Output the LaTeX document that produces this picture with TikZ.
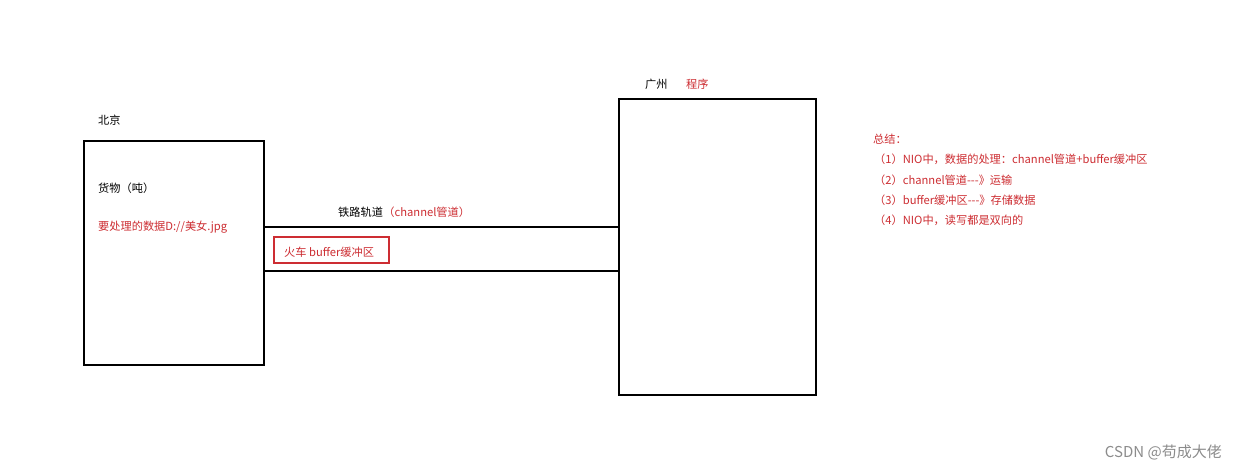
\documentclass[tikz,border=0pt]{standalone}
\usepackage{fontspec}
\setmainfont{Noto Sans CJK SC}
\definecolor{tred}{RGB}{205,45,50}
\begin{document}
\begin{tikzpicture}[x=1pt,y=-1pt,
  box/.style={draw,line width=1.8pt},
  rail/.style={line width=1.8pt},
  lbl/.style={anchor=west,inner sep=0pt,font=\fontsize{11.2}{13}\selectfont},
  rl/.style={lbl,text=tred}]
\useasboundingbox[fill=white] (0,0) rectangle (1238,471);
\node[box,minimum width=180pt,minimum height=224pt,inner sep=0pt] (bj) at (174,253) {};
\node[box,minimum width=197pt,minimum height=296pt,inner sep=0pt] (gz) at (717.5,247) {};
\coordinate (a1) at (264,227); \coordinate (a2) at (619,227);
\coordinate (b1) at (264,271); \coordinate (b2) at (619,271);
\draw[rail] (a1) -- (a2);
\draw[rail] (b1) -- (b2);
\node[draw=tred,line width=1.8pt,minimum width=115pt,minimum height=26pt,inner sep=0pt] (train) at (331.5,250) {};
\node[rl] (tt) at (284,252) {火车 buffer缓冲区};
\node[lbl] (n1) at (98,120) {北京};
\node[lbl] (n2) at (645,84) {广州};
\node[rl] (n3) at (686,84) {程序};
\node[lbl] (n4) at (98,188) {货物（吨）};
\node[rl] (n5) at (98,227) {要处理的数据D://美女.jpg};
\node[lbl] (n6) at (338,212) {铁路轨道};
\node[rl] (n7) at (n6.east) {（channel管道）};
\node[rl] (s0) at (873,139) {总结：};
\node[rl] (s1) at (874,159) {（1）NIO中，数据的处理：channel管道+buffer缓冲区};
\node[rl] (s2) at (874,180) {（2）channel管道{-}{-}{-}》运输};
\node[rl] (s3) at (874,200) {（3）buffer缓冲区{-}{-}{-}》存储数据};
\node[rl] (s4) at (874,220) {（4）NIO中，读写都是双向的};
\node[anchor=east,inner sep=0pt,text=black!45,font=\fontsize{15}{17}\selectfont] (wm) at (1222,452) {CSDN @苟成大佬};
\end{tikzpicture}
\end{document}
